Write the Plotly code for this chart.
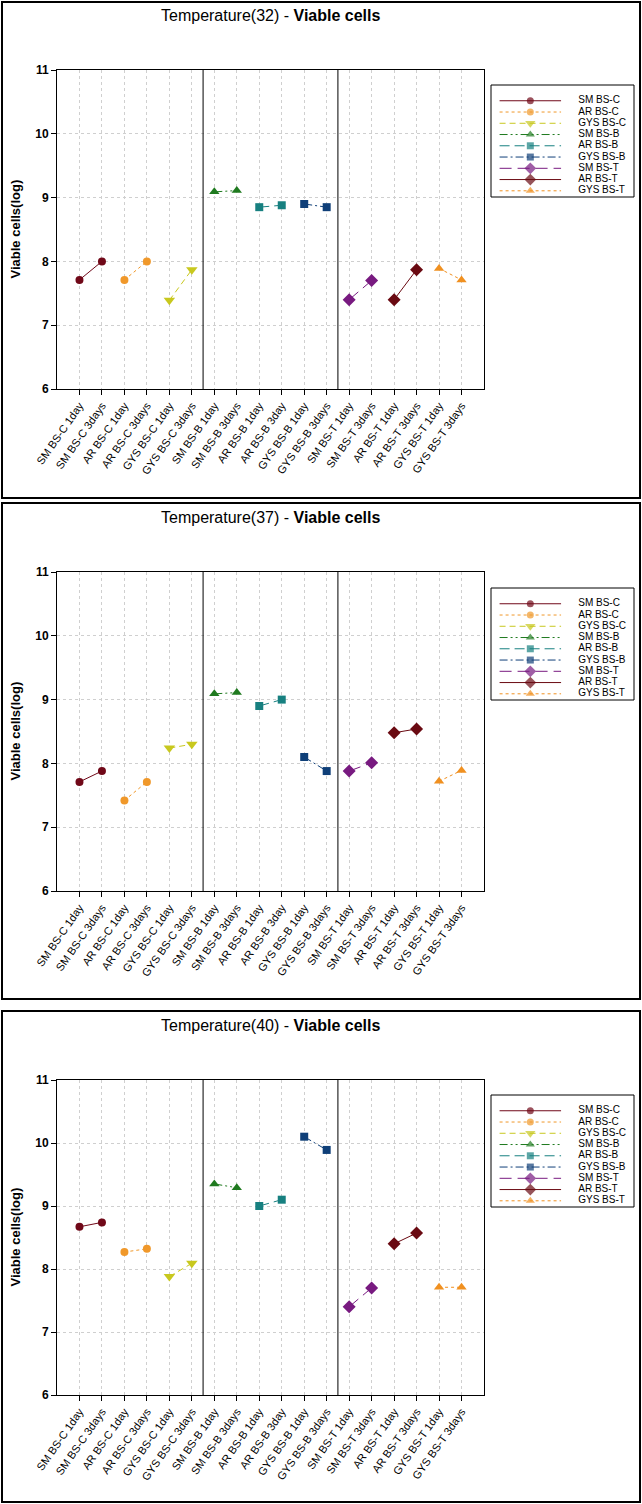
import plotly.graph_objects as go

# ---------------- data ----------------
categories = ["SM BS-C 1day", "SM BS-C 3days", "AR BS-C 1day", "AR BS-C 3days",
              "GYS BS-C 1day", "GYS BS-C 3days", "SM BS-B 1day", "SM BS-B 3days",
              "AR BS-B 1day", "AR BS-B 3day", "GYS BS-B 1day", "GYS BS-B 3days",
              "SM BS-T 1day", "SM BS-T 3days", "AR BS-T 1day", "AR BS-T 3days",
              "GYS BS-T 1day", "GYS BS-T 3days"]
series_names = ["SM BS-C", "AR BS-C", "GYS BS-C", "SM BS-B", "AR BS-B",
                "GYS BS-B", "SM BS-T", "AR BS-T", "GYS BS-T"]
temperatures = ["32", "37", "40"]
vals_32 = [7.71, 8.00, 7.71, 8.00, 7.39, 7.87, 9.09, 9.11, 8.85, 8.88,
           8.90, 8.85, 7.40, 7.70, 7.40, 7.87, 7.89, 7.71]
vals_37 = [7.71, 7.88, 7.42, 7.71, 8.24, 8.30, 9.09, 9.11, 8.90, 9.00,
           8.10, 7.88, 7.88, 8.01, 8.48, 8.54, 7.72, 7.89]
vals_40 = [8.67, 8.74, 8.27, 8.32, 7.88, 8.09, 9.35, 9.29, 9.00, 9.10,
           10.10, 9.89, 7.40, 7.70, 8.40, 8.57, 7.71, 7.71]
y_ticks = [6, 7, 8, 9, 10, 11]

# ---------------- styles ----------------
colors = ["#700818", "#f0982a", "#c8c81e", "#1f7a1f", "#178080",
          "#0f3f78", "#781a80", "#6a0a12", "#f09020"]
dashes = ["solid", "dot", "6px,4px", "8px,3px,2px,3px,2px,3px", "10px,5px",
          "8px,3px,2px,3px", "12px,6px", "solid", "dot"]
symbols = ["circle", "circle", "triangle-down", "triangle-up", "square",
           "square", "diamond", "diamond", "triangle-up"]
msizes = [8, 8, 10, 9, 8, 8, 10, 10, 9]

W, H = 642, 1504
FONT = "Liberation Sans, Arial, sans-serif"


def fx(p):
    return p / W


def fy(p):
    return 1 - p / H


panels = [
    dict(vals=vals_32, top=70, bot=389, box=(2, 2, 640, 498), title_y=15, leg=(85, 197)),
    dict(vals=vals_37, top=572, bot=891, box=(2, 503, 640, 999), title_y=518, leg=(588, 700)),
    dict(vals=vals_40, top=1080, bot=1395, box=(2, 1011, 640, 1502), title_y=1025, leg=(1095, 1207)),
]
PLOT_L, PLOT_R = 57, 484
LEG_L, LEG_R = 491, 634
YTITLE_X = 15

fig = go.Figure()
layout = dict(width=W, height=H, margin=dict(l=0, r=0, t=0, b=0, pad=0, autoexpand=False),
              template="none", hovermode=False,
              paper_bgcolor="white", plot_bgcolor="white", showlegend=False,
              font=dict(family=FONT, color="black"))
shapes = []
annotations = []
n_series = len(series_names)
group = 6

for pi, (temp, p) in enumerate(zip(temperatures, panels)):
    ax = pi + 1
    lx = pi + 4
    xa = "x" if ax == 1 else f"x{ax}"
    ya = "y" if ax == 1 else f"y{ax}"
    # data traces
    for k in range(n_series):
        fig.add_trace(go.Scatter(
            x=categories[2 * k:2 * k + 2], y=p["vals"][2 * k:2 * k + 2],
            mode="lines+markers", name=series_names[k],
            line=dict(color=colors[k], width=1, dash=dashes[k]),
            marker=dict(symbol=symbols[k], size=msizes[k], color=colors[k],
                        line=dict(width=0)),
            xaxis=xa, yaxis=ya))
    # legend traces (in separate legend axes)
    lxa, lya = f"x{lx}", f"y{lx}"
    for k in range(n_series):
        fig.add_trace(go.Scatter(
            x=[0.6, 2.75, 4.9], y=[k, k, k], mode="lines+markers",
            line=dict(color=colors[k], width=1, dash=dashes[k]),
            marker=dict(symbol=symbols[k], size=[0, msizes[k] - 1, 0], color=colors[k],
                        line=dict(width=0)),
            xaxis=lxa, yaxis=lya, cliponaxis=False))
    fig.add_trace(go.Scatter(
        x=[6.1] * n_series, y=list(range(n_series)), mode="text",
        text=series_names, textposition="middle right",
        textfont=dict(size=10, family=FONT, color="black"),
        xaxis=lxa, yaxis=lya, cliponaxis=False))

    ydom = [fy(p["bot"]), fy(p["top"])]
    plen_y = p["bot"] - p["top"]
    plen_x = PLOT_R - PLOT_L
    layout["xaxis" if ax == 1 else f"xaxis{ax}"] = dict(
        domain=[fx(PLOT_L), fx(PLOT_R)], anchor=ya, type="category", automargin=False,
        categoryorder="array", categoryarray=categories, range=[-1, len(categories)],
        tickmode="array", tickvals=categories, ticktext=categories,
        tickangle=-55, tickfont=dict(size=11, family=FONT),
        ticks="outside", ticklen=5, tickcolor="black",
        showgrid=True, gridcolor="#cfcfcf", griddash="dot", gridwidth=1,
        showline=True, linecolor="black", linewidth=1, mirror=True, zeroline=False)
    layout["yaxis" if ax == 1 else f"yaxis{ax}"] = dict(
        domain=ydom, anchor=xa, range=[y_ticks[0], y_ticks[-1]], automargin=False,
        tickmode="array", tickvals=y_ticks,
        tickfont=dict(size=12, family=FONT, weight="bold"),
        ticks="outside", ticklen=5, tickcolor="black",
        showgrid=True, gridcolor="#cfcfcf", griddash="dot", gridwidth=1,
        showline=True, linecolor="black", linewidth=1, mirror=True, zeroline=False)
    layout[f"xaxis{lx}"] = dict(domain=[fx(LEG_L), fx(LEG_R)], anchor=lya, automargin=False,
                                range=[0, 10], visible=False, fixedrange=True)
    layout[f"yaxis{lx}"] = dict(domain=[fy(p["leg"][1]), fy(p["leg"][0])], anchor=lxa,
                                automargin=False,
                                range=[n_series - 1 + 0.55, -1.4], visible=False, fixedrange=True)

    # group separators
    for b in range(1, len(categories) // group):
        shapes.append(dict(type="line", xref=xa, yref=f"{ya} domain",
                           x0=b * group - 0.5, x1=b * group - 0.5, y0=0, y1=1,
                           line=dict(color="black", width=1)))
    # legend box
    shapes.append(dict(type="rect", xref="paper", yref="paper",
                       x0=fx(LEG_L), x1=fx(LEG_R), y0=fy(p["leg"][1]), y1=fy(p["leg"][0]),
                       line=dict(color="black", width=1)))
    # panel box
    bx0, by0, bx1, by1 = p["box"]
    shapes.append(dict(type="rect", xref="paper", yref="paper",
                       x0=fx(bx0), x1=fx(bx1), y0=fy(by1), y1=fy(by0),
                       line=dict(color="black", width=2)))
    # title (domain referenced so it does not push margins)
    annotations.append(dict(text=f"Temperature({temp}) - <b>Viable cells</b>",
                            xref=f"{xa} domain", yref=f"{ya} domain", x=0.5,
                            y=(p["bot"] - p["title_y"]) / plen_y, showarrow=False,
                            xanchor="center", yanchor="middle",
                            font=dict(size=16, family=FONT)))
    # y axis title
    annotations.append(dict(text="<b>Viable cells(log)</b>",
                            xref=f"{xa} domain", yref=f"{ya} domain",
                            x=(YTITLE_X - PLOT_L) / plen_x, y=0.5, textangle=-90,
                            showarrow=False, xanchor="center", yanchor="middle",
                            font=dict(size=13, family=FONT)))

layout["shapes"] = shapes
layout["annotations"] = annotations
fig.update_layout(**layout)
fig.write_html("out.html", config={"displayModeBar": False, "staticPlot": True},
               post_script="document.body.style.margin='0';document.body.style.overflow='hidden';")
